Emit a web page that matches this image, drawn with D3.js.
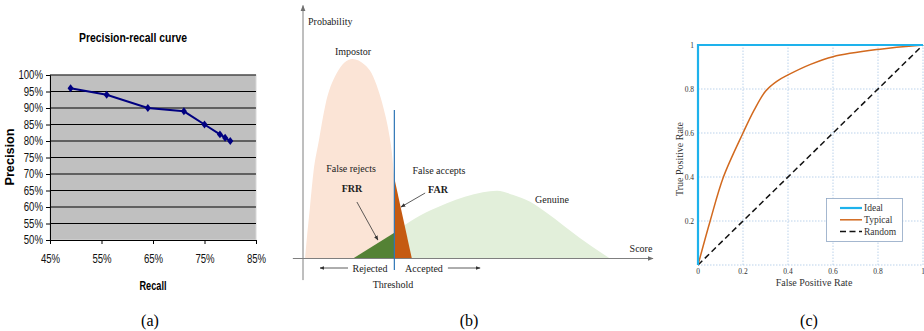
<!DOCTYPE html>
<html><head><meta charset="utf-8">
<script src="https://cdn.jsdelivr.net/npm/d3@7"></script>
<style>
body{margin:0;background:#fff;}
svg{display:block;}
.sans{font-family:"Liberation Sans",Arial,sans-serif;}
.serif{font-family:"Liberation Serif","Times New Roman",serif;}
</style></head>
<body><svg id="c" width="924" height="331"></svg>
<script>
// ---------- Panel (a) data ----------
const recall = [0.49, 0.56, 0.64, 0.71, 0.75, 0.78, 0.79, 0.80];
const precision = [0.96, 0.94, 0.90, 0.89, 0.85, 0.82, 0.81, 0.80];
const aXTicks = [0.45, 0.55, 0.65, 0.75, 0.85];
const aYTicks = [0.5,0.55,0.6,0.65,0.7,0.75,0.8,0.85,0.9,0.95,1.0];

// ---------- Panel (b) data (schematic score distributions) ----------
const impostorScore = [0.057, 0.105, 0.2, 0.295, 0.457, 0.629, 0.962, 1.41, 1.77, 1.96, 2.15, 2.29, 2.44, 2.53, 2.61, 3.11];
const impostorProb  = [0, 0.0925, 0.259, 0.426, 0.5925, 0.759, 0.926, 0.9975, 0.9675, 0.926, 0.8425, 0.759, 0.6425, 0.5425, 0.401, 0];
const genuineScore = [1.43, 2.61, 2.91, 4.11, 5.14, 5.54, 6.01, 6.49, 6.97, 7.91, 8.77];
const genuineProb  = [0, 0.129, 0.1675, 0.276, 0.331, 0.339, 0.3175, 0.284, 0.2275, 0.1025, 0];
const threshold = 2.61;

// ---------- Panel (c) data ----------
const fpr = [0, 0.054, 0.113, 0.2, 0.25, 0.3, 0.35, 0.4, 0.5, 0.6, 0.8, 1];
const tprTypical = [0, 0.2, 0.4, 0.6, 0.705, 0.79, 0.835, 0.864, 0.912, 0.947, 0.98, 1];
const idealFpr = [0, 0, 1];
const idealTpr = [0, 1, 1];
const randomFpr = [0, 1];
const randomTpr = [0, 1];
const cTicks = [0.2, 0.4, 0.6, 0.8, 1];
const cXTickLabels = ["0", "0.2", "0.4", "0.6", "0.8", "1"];
const legendNames = ["Ideal", "Typical", "Random"];
const captions = ["(a)", "(b)", "(c)"];

const svg = d3.select("#c");

// ================= Panel (a) =================
(function(){
  const g = svg.append("g").attr("class","sans");
  const x = d3.scaleLinear().domain([0.45,0.85]).range([50,256]);
  const y = d3.scaleLinear().domain([0.5,1]).range([240,75]);
  g.append("rect").attr("x",x(0.45)).attr("y",y(1)).attr("width",x(0.85)-x(0.45)).attr("height",y(0.5)-y(1))
    .attr("fill","#c0c0c0").attr("stroke","#d8d8d8").attr("stroke-width",1);
  g.selectAll("line.grid").data(aYTicks.slice(1)).join("line").attr("class","grid")
    .attr("x1",x(0.45)).attr("x2",x(0.85)).attr("y1",d=>y(d)).attr("y2",d=>y(d))
    .attr("stroke","#000").attr("stroke-width",1);
  const fmt = d3.format(".0%");
  const ya = g.append("g").attr("transform",`translate(${x(0.45)},0)`)
    .call(d3.axisLeft(y).tickValues(aYTicks).tickFormat(fmt).tickSize(4).tickPadding(3));
  const xa = g.append("g").attr("transform",`translate(0,${y(0.5)})`)
    .call(d3.axisBottom(x).tickValues(aXTicks).tickFormat(fmt).tickSize(4).tickPadding(10));
  [ya,xa].forEach(a=>{
    a.select(".domain").attr("stroke","#000");
    a.selectAll(".tick line").attr("stroke","#000");
    a.selectAll("text").attr("font-size","12px").attr("fill","#111")
      .attr("font-family","Liberation Sans, Arial, sans-serif")
      .each(function(){ const L=this.getComputedTextLength(); d3.select(this).attr("textLength",L*0.8).attr("lengthAdjust","spacingAndGlyphs"); });
  });
  const line = d3.line().x((d,i)=>x(recall[i])).y((d,i)=>y(precision[i]));
  g.append("path").datum(recall).attr("d",line).attr("fill","none").attr("stroke","#000080").attr("stroke-width",2);
  g.selectAll("path.m").data(recall).join("path").attr("class","m")
    .attr("d",d3.symbol(d3.symbolSquare,26)())
    .attr("transform",(d,i)=>`translate(${x(recall[i])},${y(precision[i])}) scale(0.85,1.1) rotate(45)`)
    .attr("fill","#000080");
  g.append("text").attr("x",133).attr("y",42).attr("text-anchor","middle").attr("font-weight","bold")
    .attr("font-size","12.5px").attr("textLength",108).attr("lengthAdjust","spacingAndGlyphs").text("Precision-recall curve");
  g.append("text").attr("transform","translate(13.5,157) rotate(-90)").attr("text-anchor","middle")
    .attr("font-weight","bold").attr("font-size","12.5px").attr("textLength",57).attr("lengthAdjust","spacingAndGlyphs").text("Precision");
  g.append("text").attr("x",153).attr("y",289.5).attr("text-anchor","middle")
    .attr("font-weight","bold").attr("font-size","12.5px").attr("textLength",27).attr("lengthAdjust","spacingAndGlyphs").text("Recall");
})();

// ================= Panel (b) =================
(function(){
  const g = svg.append("g").attr("class","serif");
  const x = d3.scaleLinear().domain([0,10]).range([303,653]);
  const y = d3.scaleLinear().domain([0,1]).range([258.5,58.5]);
  const defs = svg.append("defs");
  defs.append("clipPath").attr("id","leftT").append("rect")
    .attr("x",0).attr("y",0).attr("width",x(threshold)).attr("height",331);
  defs.append("clipPath").attr("id","rightT").append("rect")
    .attr("x",x(threshold)).attr("y",0).attr("width",924-x(threshold)).attr("height",331);
  const mk = (id,col)=>defs.append("marker").attr("id",id).attr("viewBox","0 0 10 10").attr("refX",9).attr("refY",5)
    .attr("markerWidth",6).attr("markerHeight",6).attr("orient","auto-start-reverse")
    .append("path").attr("d","M0,1 L10,5 L0,9 Z").attr("fill",col);
  mk("arrG","#707070"); mk("arrK","#333");

  const imp = impostorScore.map((s,i)=>[s,impostorProb[i]]);
  const gen = genuineScore.map((s,i)=>[s,genuineProb[i]]);
  const area = d3.area().x(d=>x(d[0])).y0(y(0)).y1(d=>y(d[1])).curve(d3.curveMonotoneX);
  const areaLin = d3.area().x(d=>x(d[0])).y0(y(0)).y1(d=>y(d[1]));

  g.append("path").datum(imp).attr("d",area).attr("fill","#fbe4d6").attr("clip-path","url(#leftT)");
  g.append("path").datum(gen).attr("d",area).attr("fill","#e2efda").attr("clip-path","url(#rightT)");
  g.append("path").datum(gen.filter(d=>d[0]<=threshold)).attr("d",areaLin).attr("fill","#548235");
  g.append("path").datum(imp.filter(d=>d[0]>=threshold)).attr("d",areaLin).attr("fill","#c55a11");

  g.append("line").attr("x1",x(0)).attr("x2",x(0)).attr("y1",y(-0.108)).attr("y2",y(1.265))
    .attr("stroke","#7f7f7f").attr("stroke-width",1).attr("marker-end","url(#arrG)");
  g.append("line").attr("x1",x(-0.29)).attr("x2",x(10)).attr("y1",y(0)).attr("y2",y(0))
    .attr("stroke","#7f7f7f").attr("stroke-width",1).attr("marker-end","url(#arrG)");
  g.append("line").attr("x1",x(threshold)).attr("x2",x(threshold)).attr("y1",y(0.7425)).attr("y2",y(-0.0575))
    .attr("stroke","#2e75b6").attr("stroke-width",1.2);
  const arrows = [[1.286,-0.0475,0.486,-0.0475],[4.14,-0.0475,5.06,-0.0475],[1.54,0.2825,2.14,0.0925],[3.49,0.3275,2.8,0.2575]];
  g.selectAll("line.ann").data(arrows).join("line").attr("class","ann")
    .attr("x1",d=>x(d[0])).attr("y1",d=>y(d[1])).attr("x2",d=>x(d[2])).attr("y2",d=>y(d[3]))
    .attr("stroke","#333").attr("stroke-width",0.8).attr("marker-end","url(#arrK)");
  const T = (t,xx,yy,anchor,bold)=>g.append("text").attr("x",xx).attr("y",yy).attr("text-anchor",anchor||"middle")
    .attr("font-size","10px").attr("font-weight",bold?"bold":"normal").attr("fill","#222").text(t);
  T("Probability",308,25,"start");
  T("Impostor",353,55);
  T("False rejects",351,171.5);
  T("FRR",352,191.5,"middle",true);
  T("False accepts",439,173.5);
  T("FAR",438,192.5,"middle",true);
  T("Genuine",552,202.5);
  T("Score",641,252);
  T("Rejected",370,271.5);
  T("Accepted",424,271.5);
  T("Threshold",393,287.5);
})();

// ================= Panel (c) =================
(function(){
  const g = svg.append("g").attr("class","serif");
  const x = d3.scaleLinear().domain([0,1]).range([698,923]);
  const y = d3.scaleLinear().domain([0,1]).range([265,45]);
  g.selectAll("line.vg").data(cTicks).join("line").attr("class","vg")
    .attr("x1",d=>x(d)).attr("x2",d=>x(d)).attr("y1",y(0)).attr("y2",y(1))
    .attr("stroke","#a9c6e6").attr("stroke-width",0.8).attr("stroke-dasharray","1.5,1.5");
  g.selectAll("line.hg").data([0].concat(cTicks)).join("line").attr("class","hg")
    .attr("x1",x(0)).attr("x2",x(1)).attr("y1",d=>y(d)).attr("y2",d=>y(d))
    .attr("stroke","#a9c6e6").attr("stroke-width",0.8).attr("stroke-dasharray","1.5,1.5");
  g.selectAll("text.xt").data(cXTickLabels).join("text").attr("class","xt")
    .attr("x",(d,i)=>x(i*0.2)).attr("y",274).attr("text-anchor","middle").attr("font-size","7.5px").attr("fill","#333").text(d=>d);
  g.selectAll("text.yt").data(cTicks).join("text").attr("class","yt")
    .attr("x",694).attr("y",d=>y(d)+2.5).attr("text-anchor","end").attr("font-size","7.5px").attr("fill","#333")
    .text(d=>d===1?"1":d.toFixed(1));
  const line = d3.line().x(d=>x(d[0])).y(d=>y(d[1]));
  g.append("path").datum(randomFpr.map((v,i)=>[v,randomTpr[i]])).attr("d",line).attr("fill","none")
    .attr("stroke","#111").attr("stroke-width",1.5).attr("stroke-dasharray","6,3.5");
  g.append("path").datum(fpr.map((v,i)=>[v,tprTypical[i]]))
    .attr("d",d3.line().x(d=>x(d[0])).y(d=>y(d[1])).curve(d3.curveCatmullRom.alpha(0.5))).attr("fill","none")
    .attr("stroke","#d2691e").attr("stroke-width",1.5);
  g.append("path").datum(idealFpr.map((v,i)=>[v,idealTpr[i]])).attr("d",line).attr("fill","none")
    .attr("stroke","#1eb2ec").attr("stroke-width",2.2);
  g.append("text").attr("x",814).attr("y",286).attr("text-anchor","middle").attr("font-size","10px").attr("fill","#333").text("False Positive Rate");
  g.append("text").attr("transform","translate(683,159) rotate(-90)").attr("text-anchor","middle").attr("font-size","10px").attr("fill","#333").text("True Positive Rate");
  const lg = g.append("g");
  lg.append("rect").attr("x",826.5).attr("y",198.5).attr("width",76).attr("height",43)
    .attr("fill","#fff").attr("stroke","#8ea6c4").attr("stroke-width",0.8);
  const lc = ["#1eb2ec","#d2691e","#111"];
  const ld = [null,null,"6,3.5"];
  const lw = [2.2,1.5,1.5];
  legendNames.forEach((n,i)=>{
    const yy = 208 + i*11.8;
    lg.append("line").attr("x1",840).attr("x2",862).attr("y1",yy).attr("y2",yy)
      .attr("stroke",lc[i]).attr("stroke-width",lw[i]).attr("stroke-dasharray",ld[i]);
    lg.append("text").attr("x",864).attr("y",yy+3).attr("font-size","9.5px").attr("fill","#333").text(n);
  });
})();

svg.selectAll("text.cap").data(captions).join("text").attr("class","cap serif")
  .attr("x",(d,i)=>[150,469,809][i]).attr("y",326).attr("text-anchor","middle")
  .attr("font-size","16px").attr("fill","#000").attr("font-family","Liberation Serif, serif").text(d=>d);
</script></body></html>
